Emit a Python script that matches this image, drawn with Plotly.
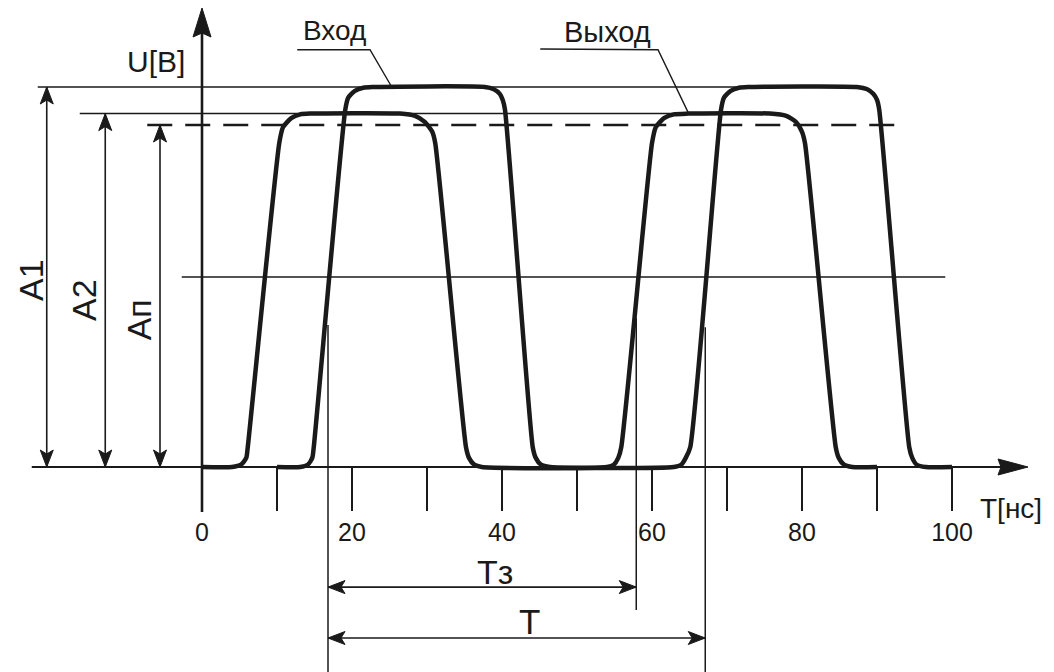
import plotly.graph_objects as go

# ---------------- data (time in ns, voltage in V) ----------------
# input pulse train ("Вход")
t_in = [10.0, 13.1, 14.1, 14.7, 14.9, 19.1, 19.5, 20.4, 21.5, 22.7,
        37.7, 38.9, 39.7, 40.1, 40.4, 44.1, 44.5, 45.2, 46.4,
        62.9, 63.9, 64.5, 65.1, 69.2, 69.6, 70.5, 71.6, 72.8,
        87.3, 88.7, 89.5, 90.0, 90.3, 94.3, 94.7, 95.3, 96.5, 100.0]
u_in = [0, 0, 0.03, 0.12, 0.26, 4.70, 4.86, 4.95, 4.99, 5.0,
        5.0, 4.97, 4.91, 4.83, 4.70, 0.26, 0.12, 0.03, 0,
        0, 0.03, 0.12, 0.26, 4.70, 4.86, 4.95, 4.99, 5.0,
        5.0, 4.97, 4.91, 4.83, 4.70, 0.26, 0.12, 0.03, 0, 0]

# output pulse train ("Выход")
t_out = [0.0, 4.0, 5.2, 5.9, 6.1, 10.3, 10.8, 11.9, 13.1, 14.4,
         26.4, 28.4, 29.7, 30.7, 31.1, 35.2, 35.6, 36.3, 37.3,
         54.0, 54.9, 55.5, 55.9, 60.0, 60.5, 61.6, 62.9, 64.8,
         75.7, 77.9, 79.2, 80.0, 80.4, 84.5, 84.9, 85.6, 86.7, 90.0]
u_out = [0, 0, 0.03, 0.12, 0.26, 4.26, 4.47, 4.59, 4.64, 4.65,
         4.65, 4.62, 4.54, 4.41, 4.26, 0.26, 0.12, 0.03, 0,
         0, 0.03, 0.12, 0.26, 4.26, 4.47, 4.59, 4.64, 4.65,
         4.65, 4.62, 4.54, 4.41, 4.26, 0.26, 0.12, 0.03, 0, 0]

# amplitude levels
A1_level = 5.0
A2_level = 4.65
An_level = 4.5
half_level = 2.5

# extents of the level lines (ns)
A1_line_t = [-21.9, 72.0]
A2_line_t = [-16.3, 64.8]
An_line_t = [-7.3, 93.1]
half_line_t = [-2.7, 99.1]

# dimension arrows
dim_labels = ["A1", "A2", "Aп"]
dim_t = [-20.7, -12.9, -5.6]
dim_top = [A1_level, A2_level, An_level]
dim_label_t = [-22.8, -15.7, -8.4]
dim_label_u = [2.46, 2.20, 1.93]

# time marks
t_mark_start = 16.8
t_mark_delay = 57.9
t_mark_period = 67.1
Tz_arrow_u = -1.58
T_arrow_u = -2.25

# x ticks
tick_vals = [0, 10, 20, 30, 40, 50, 60, 70, 80, 90, 100]
tick_text = ["0", "", "20", "", "40", "", "60", "", "80", "", "100"]

# leader lines for labels
lead_in_t = [12.7, 22.4, 25.3]
lead_in_u = [5.49, 5.49, 5.0]
lead_out_t = [45.1, 60.8, 64.8]
lead_out_u = [5.50, 5.49, 4.67]

# ---------------- geometry ----------------
W, H = 1054, 672
X0_PX, PPX = 202, 7.5
Y0_PX, PPY = 467, 76
xr = [-X0_PX / PPX, (W - X0_PX) / PPX]
yr = [-(H - Y0_PX) / PPY, Y0_PX / PPY]

INK = "#1a1a1a"
FONT = "Liberation Sans, Arial, sans-serif"

fig = go.Figure()

shapes = []


def line(x0, y0, x1, y1, w=1.5, dash=None):
    d = dict(type="line", xref="x", yref="y", x0=x0, y0=y0, x1=x1, y1=y1,
             line=dict(color=INK, width=w))
    if dash:
        d["line"]["dash"] = dash
    shapes.append(d)


def head(tx, ty, dx, dy, L=17, Wd=13, notch=4):
    # arrowhead with tip at (tx, ty) pointing in direction (dx, dy) (pixel units, y up)
    px, py = -dy, dx
    pts_px = [(0, 0),
              (-dx * L + px * Wd / 2, -dy * L + py * Wd / 2),
              (-dx * (L - notch), -dy * (L - notch)),
              (-dx * L - px * Wd / 2, -dy * L - py * Wd / 2)]
    pts = [(tx + ox / PPX, ty + oy / PPY) for ox, oy in pts_px]
    path = "M{},{} L{},{} L{},{} L{},{} Z".format(*[v for p in pts for v in p])
    shapes.append(dict(type="path", xref="x", yref="y", path=path,
                       fillcolor=INK, line=dict(color=INK, width=1)))


# level lines
line(A1_line_t[0], A1_level, A1_line_t[1], A1_level)
line(A2_line_t[0], A2_level, A2_line_t[1], A2_level)
line(An_line_t[0], An_level, An_line_t[1], An_level, w=2.4, dash="25px,13px")
line(half_line_t[0], half_level, half_line_t[1], half_level)

# baseline (time axis) with arrow
x_tip = (1028 - X0_PX) / PPX
line(-22.7, 0, x_tip - 20 / PPX, 0, w=2)
head(x_tip, 0, 1, 0, L=30, Wd=16, notch=3)

# voltage axis with arrow
y_tip = (Y0_PX - 8) / PPY
line(0, -45 / PPY, 0, y_tip - 20 / PPY, w=2.6)
head(0, y_tip, 0, 1, L=29, Wd=18, notch=4)

# dimension arrows A1, A2, Aп
for t, top in zip(dim_t, dim_top):
    line(t, 0, t, top, w=1.6)
    head(t, top, 0, 1)
    head(t, 0, 0, -1)

# vertical time marks
line(t_mark_start, 1.87, t_mark_start, yr[0], w=1.5)
line(t_mark_delay, 1.96, t_mark_delay, -1.88, w=1.5)
line(t_mark_period, 1.84, t_mark_period, yr[0], w=1.5)

# Tз and T arrows
line(t_mark_start, Tz_arrow_u, t_mark_delay, Tz_arrow_u, w=1.6)
head(t_mark_start, Tz_arrow_u, -1, 0)
head(t_mark_delay, Tz_arrow_u, 1, 0)
line(t_mark_start, T_arrow_u, t_mark_period, T_arrow_u, w=1.6)
head(t_mark_start, T_arrow_u, -1, 0)
head(t_mark_period, T_arrow_u, 1, 0)

# waveforms
fig.add_trace(go.Scatter(x=t_out, y=u_out, mode="lines", name="Выход",
                         line=dict(color=INK, width=4.5, shape="spline", smoothing=0.6),
                         hoverinfo="skip"))
fig.add_trace(go.Scatter(x=t_in, y=u_in, mode="lines", name="Вход",
                         line=dict(color=INK, width=4.5, shape="spline", smoothing=0.6),
                         hoverinfo="skip"))

# leader lines
fig.add_trace(go.Scatter(x=lead_in_t, y=lead_in_u, mode="lines",
                         line=dict(color=INK, width=1.4), hoverinfo="skip"))
fig.add_trace(go.Scatter(x=lead_out_t, y=lead_out_u, mode="lines",
                         line=dict(color=INK, width=1.4), hoverinfo="skip"))

ann = []


def text(x, y, s, size, angle=0):
    ann.append(dict(x=x, y=y, xref="x", yref="y", text=s, showarrow=False,
                    textangle=angle, xanchor="center", yanchor="middle",
                    font=dict(family=FONT, size=size, color=INK)))


text(17.6, 5.74, "Вход", 28)
text(54.0, 5.72, "Выход", 29)
text(-6.1, 5.34, "U[B]", 30)
text(107.9, -0.54, "T[нс]", 28)
text(39.1, -1.38, "Тз", 34)
text(43.6, -2.03, "T", 35)
for s, x, y in zip(dim_labels, dim_label_t, dim_label_u):
    text(x, y, s, 34, angle=-90)

fig.update_layout(
    width=W, height=H, autosize=False,
    margin=dict(l=0, r=0, t=0, b=0, pad=0),
    paper_bgcolor="white", plot_bgcolor="white",
    showlegend=False,
    shapes=shapes, annotations=ann,
    xaxis=dict(range=xr, anchor="free", position=(H - Y0_PX) / H,
               showgrid=False, zeroline=False, showline=False,
               ticks="outside", ticklen=43, tickwidth=1.7, tickcolor=INK,
               tickmode="array", tickvals=tick_vals, ticktext=tick_text,
               tickfont=dict(family=FONT, size=25, color=INK),
               fixedrange=True),
    yaxis=dict(range=yr, visible=False, fixedrange=True),
)

fig.write_html("out.html", config={"displayModeBar": False, "staticPlot": True},
               post_script="document.body.style.margin='0';document.body.style.overflow='hidden';")
